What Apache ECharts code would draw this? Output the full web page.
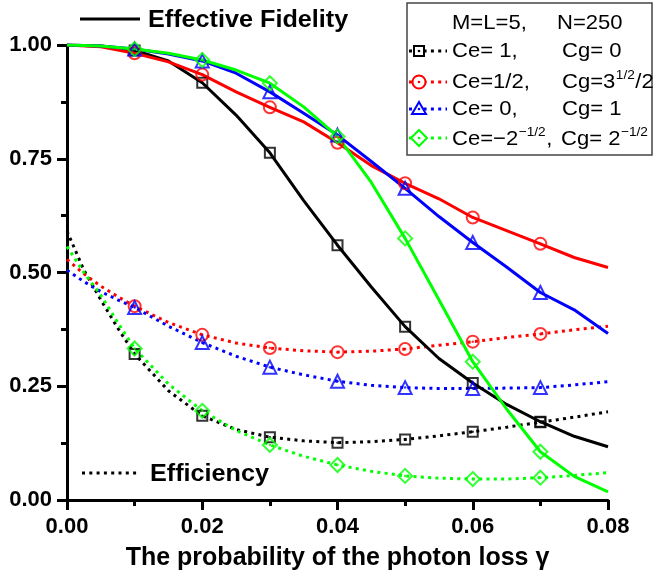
<!DOCTYPE html>
<html>
<head>
<meta charset="utf-8">
<script src="https://cdn.jsdelivr.net/npm/echarts@6/dist/echarts.min.js"></script>
<style>
html,body{margin:0;padding:0;background:#fff;}
#chart{width:656px;height:582px;}
</style>
</head>
<body>
<div id="chart"></div>
<script>
// ---------- data ----------
var xTicks = [0, 0.02, 0.04, 0.06, 0.08];
var yTicks = [0, 0.25, 0.5, 0.75, 1.0];
var markerGammas = [0.01, 0.02, 0.03, 0.04, 0.05, 0.06, 0.07];

// Efficiency (dotted) curves
var effGamma = [0, 0.0025, 0.005, 0.0075, 0.01, 0.015, 0.02, 0.025, 0.03, 0.035, 0.04, 0.045, 0.05, 0.055, 0.06, 0.065, 0.07, 0.075, 0.08];
var effBlack = [0.591, 0.505, 0.440, 0.378, 0.321, 0.240, 0.185, 0.155, 0.138, 0.130, 0.126, 0.128, 0.133, 0.141, 0.150, 0.160, 0.171, 0.182, 0.194];
var effRed   = [0.529, 0.497, 0.470, 0.447, 0.426, 0.390, 0.363, 0.345, 0.334, 0.328, 0.325, 0.327, 0.332, 0.340, 0.348, 0.357, 0.365, 0.374, 0.382];
var effBlue  = [0.505, 0.480, 0.458, 0.440, 0.423, 0.382, 0.346, 0.316, 0.292, 0.275, 0.261, 0.252, 0.247, 0.245, 0.245, 0.246, 0.247, 0.253, 0.260];
var effGreen = [0.557, 0.500, 0.450, 0.390, 0.333, 0.255, 0.196, 0.153, 0.121, 0.096, 0.077, 0.063, 0.053, 0.048, 0.046, 0.046, 0.049, 0.054, 0.060];

// Effective fidelity (solid) curves
var fidGamma = [0, 0.005, 0.01, 0.015, 0.02, 0.025, 0.03, 0.035, 0.04, 0.045, 0.05, 0.055, 0.06, 0.065, 0.07, 0.075, 0.08];
var fidBlack = [1.000, 0.998, 0.988, 0.965, 0.917, 0.846, 0.763, 0.658, 0.560, 0.468, 0.381, 0.311, 0.257, 0.210, 0.172, 0.140, 0.117];
var fidRed   = [1.000, 0.996, 0.982, 0.963, 0.935, 0.897, 0.863, 0.831, 0.785, 0.735, 0.696, 0.662, 0.621, 0.592, 0.563, 0.533, 0.511];
var fidBlue  = [1.000, 0.998, 0.991, 0.980, 0.965, 0.938, 0.897, 0.850, 0.802, 0.744, 0.685, 0.623, 0.566, 0.512, 0.456, 0.418, 0.366];
var fidGreen = [1.000, 0.998, 0.991, 0.982, 0.967, 0.945, 0.916, 0.864, 0.799, 0.698, 0.575, 0.440, 0.304, 0.200, 0.106, 0.052, 0.018];

// ---------- build ----------
var FONT = '"Liberation Sans", Arial, Helvetica, sans-serif';
var S = 1.05; // horizontal stretch of decorative text
var measureCtx = document.createElement('canvas').getContext('2d');
function textW(t, size, bold){
  measureCtx.font = (bold?'bold ':'') + size + 'px ' + FONT;
  return measureCtx.measureText(t).width * S;
}
function pairs(xs, ys){ return xs.map(function(x,i){ return [x, ys[i]]; }); }
function marks(xs, ys){
  var out = [];
  xs.forEach(function(x,i){
    markerGammas.forEach(function(m){ if (Math.abs(x-m) < 1e-9) out.push([x, ys[i]]); });
  });
  return out;
}
var styles = [
  {color:'#000000', symbol:'rect', size:10, eff:effBlack, fid:fidBlack},
  {color:'#ff0000', symbol:'circle', size:12, eff:effRed, fid:fidRed},
  {color:'#0000ff', symbol:'triangle', size:13, eff:effBlue, fid:fidBlue},
  {color:'#00ff00', symbol:'diamond', size:14, eff:effGreen, fid:fidGreen}
];
var series = [];
styles.forEach(function(s){
  series.push({type:'line', data:pairs(effGamma, s.eff), showSymbol:false, symbol:'none', smooth:false,
    lineStyle:{color:s.color, width:3, type:[3,4.3]}, silent:true, z:2});
  series.push({type:'line', data:pairs(fidGamma, s.fid), showSymbol:false, symbol:'none', smooth:false,
    lineStyle:{color:s.color, width:3, type:'solid'}, silent:true, z:3});
});
styles.forEach(function(s){
  var md = marks(effGamma, s.eff).concat(marks(fidGamma, s.fid));
  series.push({type:'scatter', data:md, symbol:s.symbol, symbolSize:s.size,
    itemStyle:{color:'rgba(255,255,255,0)', borderColor:s.color, borderWidth:2}, silent:true, z:4});
  series.push({type:'scatter', data:md, symbol:'circle', symbolSize:2.5,
    itemStyle:{color:s.color}, silent:true, z:4});
});

// legend graphics (decoration)
var LX = 419, rows = [51, 82, 109, 138];
var g = [];
g.push({type:'rect', shape:{x:407, y:3, width:245, height:152}, style:{fill:'#fff', stroke:'#444', lineWidth:1.5}, z:10});
styles.forEach(function(s, i){
  var y = rows[i];
  g.push({type:'line', shape:{x1:409, y1:y, x2:447, y2:y}, style:{stroke:s.color, lineWidth:3, lineDash:[3,4.3]}, z:11});
  var st = {fill:'#fff', stroke:s.color, lineWidth:2};
  if (i === 0) g.push({type:'rect', shape:{x:LX-5, y:y-5, width:10, height:10}, style:st, z:12});
  if (i === 1) g.push({type:'circle', shape:{cx:LX, cy:y, r:6.5}, style:st, z:12});
  if (i === 2) g.push({type:'polygon', shape:{points:[[LX-7,y+5],[LX+7,y+5],[LX,y-7]]}, style:st, z:12});
  if (i === 3) g.push({type:'polygon', shape:{points:[[LX,y-8],[LX+8,y],[LX,y+8],[LX-8,y]]}, style:st, z:12});
  g.push({type:'circle', shape:{cx:LX, cy:y, r:1.3}, style:{fill:s.color}, z:13});
});
function txt(t, x, y, size, bold){
  g.push({type:'text', x:x, y:y, scaleX:S, z:14,
    style:{text:t, fill:'#000', font:(bold?'bold ':'')+size+'px '+FONT, verticalAlign:'middle', align:'left'}});
  return x + textW(t, size, bold);
}
// run of text with superscripts: parts = [[text, isSup], ...]
function run(parts, x, y){
  parts.forEach(function(p){
    if (p[1]) x = txt(p[0], x + 0.5, y - 7, 13) + 0.5;
    else x = txt(p[0], x, y, 21);
  });
}
run([['M=L=5,',0]], 452, 23);   run([['N=250',0]], 557, 23);
run([['Ce= 1,',0]], 452, 51);   run([['Cg= 0',0]], 562, 51);
run([['Ce=1/2,',0]], 452, 82);  run([['Cg=3',0],['1/2',1],['/2',0]], 562, 82);
run([['Ce= 0,',0]], 452, 109);  run([['Cg= 1',0]], 562, 109);
run([['Ce=\u22122',0],['\u22121/2',1],[',',0]], 452, 139);
run([['Cg= 2',0],['\u22121/2',1]], 561, 139);

// in-plot labels
g.push({type:'line', shape:{x1:80, y1:19, x2:140, y2:19}, style:{stroke:'#000', lineWidth:3}, z:11});
txt('Effective Fidelity', 148, 20, 24, true);
g.push({type:'line', shape:{x1:82, y1:473, x2:140, y2:473}, style:{stroke:'#000', lineWidth:3, lineDash:[3,4.3]}, z:11});
txt('Efficiency', 150, 474, 24, true);

var chart = echarts.init(document.getElementById('chart'), null, {renderer:'canvas'});
chart.setOption({
  animation:false,
  backgroundColor:'#fff',
  grid:{left:67, right:48, top:45, bottom:82, containLabel:false},
  xAxis:{type:'value', min:xTicks[0], max:xTicks[xTicks.length-1], interval:xTicks[1]-xTicks[0],
    name:'The probability of the photon loss \u03b3', nameLocation:'middle', nameGap:46,
    nameTextStyle:{fontFamily:FONT, fontWeight:'bold', fontSize:25, color:'#000'},
    axisLine:{show:true, onZero:false, lineStyle:{color:'#000', width:3}},
    axisTick:{show:true, inside:false, length:10, lineStyle:{color:'#000', width:3}},
    minorTick:{show:true, splitNumber:2, length:6, lineStyle:{color:'#000', width:3}},
    splitLine:{show:false},
    axisLabel:{margin:16, fontFamily:FONT, fontWeight:'bold', fontSize:22, color:'#000',
      formatter:function(v){ return v.toFixed(2); }}
  },
  yAxis:{type:'value', min:yTicks[0], max:yTicks[yTicks.length-1], interval:yTicks[1]-yTicks[0],
    axisLine:{show:true, onZero:false, lineStyle:{color:'#000', width:3}},
    axisTick:{show:true, inside:false, length:10, lineStyle:{color:'#000', width:3}},
    minorTick:{show:true, splitNumber:2, length:6, lineStyle:{color:'#000', width:3}},
    splitLine:{show:false},
    axisLabel:{margin:15, fontFamily:FONT, fontWeight:'bold', fontSize:22, color:'#000',
      formatter:function(v){ return v.toFixed(2); }}
  },
  series:series,
  graphic:g
});
</script>
</body>
</html>
